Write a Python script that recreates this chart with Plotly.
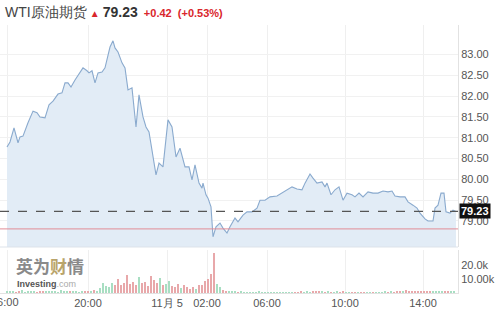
import plotly.graph_objects as go

# ---------------- data ----------------
# x positions are a time index (chart-scale units), prices read from the picture
price_x = [7, 10, 14, 18, 20, 23, 28, 33, 37, 40, 45, 49, 53, 58, 62, 65, 68, 71, 75, 78,
           83, 87, 89, 92, 95, 98, 102, 105, 110, 113, 115, 118, 122, 125, 128, 132, 136, 139,
           143, 146, 149, 156, 159, 163, 168, 172, 176, 180, 185, 189, 192, 195, 199, 202, 203,
           206, 208, 211, 213, 216, 220, 223, 227, 230, 235, 238, 243, 247, 252, 257, 260, 265,
           270, 277, 282, 287, 292, 297, 302, 305, 310, 313, 317, 322, 325, 327, 331, 335, 339,
           343, 347, 352, 355, 359, 363, 368, 373, 378, 383, 388, 392, 395, 400, 405, 408, 413,
           417, 420, 425, 428, 433, 435, 438, 441, 444, 446, 450, 453, 456]
price_y = [80.78, 80.90, 81.24, 80.88, 81.02, 81.04, 81.36, 81.64, 81.60, 81.50, 81.48, 81.79,
           81.88, 82.05, 82.08, 82.32, 82.32, 82.22, 82.39, 82.51, 82.68, 82.61, 82.56, 82.61,
           82.32, 82.56, 82.58, 82.68, 83.18, 83.33, 83.16, 83.06, 82.80, 82.68, 82.15, 82.20,
           81.26, 82.03, 81.50, 81.26, 81.14, 80.11, 80.39, 80.30, 81.43, 81.26, 80.54, 80.75,
           80.30, 80.30, 79.99, 80.35, 79.91, 79.79, 79.91, 79.63, 79.55, 79.34, 78.62, 78.86,
           78.95, 78.83, 78.71, 78.86, 79.07, 78.98, 79.14, 79.22, 79.22, 79.31, 79.50, 79.50,
           79.58, 79.60, 79.67, 79.75, 79.82, 79.77, 79.75, 79.91, 80.13, 80.03, 79.91, 79.94,
           79.82, 79.91, 79.63, 79.75, 79.82, 79.50, 79.67, 79.63, 79.58, 79.67, 79.58, 79.70,
           79.67, 79.67, 79.72, 79.70, 79.72, 79.60, 79.58, 79.58, 79.46, 79.38, 79.31, 79.19,
           79.05, 79.00, 79.00, 79.31, 79.38, 79.67, 79.67, 79.22, 79.19, 79.26, 79.23]

last_price = 79.23
prev_close = 78.81
change = "+0.42"
change_pct = "(+0.53%)"

# volume in thousands
volumes = [1.2, 0.8, 1.5, 0.6, 1.0, 1.8, 0.7, 1.1, 0.9, 1.4, 0.6, 1.3, 1.0, 0.8, 1.6, 0.9,
           1.2, 0.7, 1.9, 1.1, 0.8, 1.5, 1.0, 1.3, 0.7, 1.7, 1.2, 0.9, 1.4, 2.0, 1.6,
           3.5, 6.8, 5.2, 4.1, 7.5, 6.0, 9.8, 5.5, 7.2, 12.5, 6.5, 8.0, 5.8, 11.2, 6.9, 7.8,
           4.8, 12.0, 9.5, 7.0, 10.5, 5.6, 6.2, 8.8, 5.0, 4.2, 6.5, 3.8, 5.4, 4.0, 3.2, 4.6,
           3.0, 5.8,
           6.0, 8.5, 10.0, 13.5, 28.5, 6.5, 4.0, 2.2,
           1.5, 1.2, 0.8, 1.0, 0.6, 0.9, 0.5, 0.7, 0.4, 0.6, 0.5, 0.8, 0.3, 0.5, 0.4, 0.6,
           0.3, 0.5, 0.4, 0.3, 0.5, 0.6, 0.4, 0.7, 0.5, 0.8, 0.6, 1.0, 0.7, 1.2, 0.8, 1.5,
           0.9, 0.6, 1.1, 0.7, 0.5, 0.8, 0.6, 0.9, 0.4, 0.6, 0.5, 0.7, 0.4, 0.5, 0.6, 0.4,
           0.3, 0.5, 0.4, 0.6, 0.5, 0.8, 0.6, 1.0, 0.7, 1.4, 0.9, 1.2, 1.8, 1.0, 1.5, 0.8,
           1.3, 1.1, 0.9, 1.6, 1.0, 1.4, 0.8, 1.7, 1.2, 0.9, 1.5, 1.1, 0.8]
vol_x = [7 + 3 * i for i in range(len(volumes))]

tick_pos = [7, 88, 167, 207, 267, 345, 423]
tick_labels = ["16:00", "20:00", "11月 5", "02:00", "06:00", "10:00", "14:00"]
price_ticks = [79.0, 79.5, 80.0, 80.5, 81.0, 81.5, 82.0, 82.5, 83.0]
vol_ticks = [10000, 20000]
vol_tick_labels = ["10.00k", "20.0k"]


# ---------------- helpers ----------------
def interp(x):
    if x <= price_x[0]:
        return price_y[0]
    for i in range(1, len(price_x)):
        if x <= price_x[i]:
            x0, x1 = price_x[i - 1], price_x[i]
            y0, y1 = price_y[i - 1], price_y[i]
            return y0 + (y1 - y0) * (x - x0) / (x1 - x0)
    return price_y[-1]


vol_colors = []
for x in vol_x:
    up = interp(x) >= interp(x - 3)
    vol_colors.append("rgb(168,222,194)" if up else "rgb(232,168,170)")

FONT = "Arial, 'Liberation Sans', sans-serif"

fig = go.Figure()
fig.add_trace(go.Scatter(
    x=price_x, y=price_y, mode="lines", fill="tozeroy",
    line=dict(color="rgb(138,170,206)", width=1.1),
    fillcolor="rgb(226,236,246)", xaxis="x", yaxis="y", hoverinfo="skip"))
fig.add_trace(go.Bar(
    x=vol_x, y=[v * 1000 for v in volumes], marker=dict(color=vol_colors, line=dict(width=0)),
    width=1.2, xaxis="x", yaxis="y2", hoverinfo="skip"))

top_px, bot_px = 25, 293
H = 317 - top_px - (317 - bot_px)
price_bottom_px = 247
vol_top_px = 250
shown_text = [("" if i == 0 else t) for i, t in enumerate(tick_labels)]
fig.update_layout(
    width=500, height=317, margin=dict(l=0, r=42, t=top_px, b=317 - bot_px),
    paper_bgcolor="white", plot_bgcolor="white", showlegend=False, bargap=0,
    font=dict(family=FONT, size=11, color="#555"),
    xaxis=dict(range=[0, 458], domain=[0, 1], anchor="y2", tickvals=tick_pos, ticktext=shown_text,
               showgrid=True, gridcolor="#efefef", gridwidth=1, showline=True, linecolor="#e2e2e2",
               ticks="", zeroline=False, ticklabeloverflow="allow", tickfont=dict(size=11, color="#555")),
    yaxis=dict(domain=[(bot_px - price_bottom_px) / H, 1], range=[78.375, 83.71], side="right",
               anchor="x", tickvals=price_ticks, ticktext=["%.2f" % v for v in price_ticks],
               showgrid=True, gridcolor="#f1f1f1", showline=True, linecolor="#e2e2e2",
               zeroline=False, ticks="", tickfont=dict(size=11, color="#555")),
    yaxis2=dict(domain=[0, (bot_px - vol_top_px) / H], range=[0, 30700], side="right",
                anchor="x", tickvals=vol_ticks, ticktext=vol_tick_labels, showgrid=False,
                showline=True, linecolor="#e2e2e2", zeroline=False, ticks="",
                tickfont=dict(size=11, color="#555")),
)

# first time label, partly cut by the left edge as in the original
fig.add_annotation(xref="x", yref="paper", x=tick_pos[0] - 2, y=0, xanchor="center", yanchor="top",
                   yshift=-1, text=tick_labels[0], showarrow=False,
                   font=dict(size=11, color="#555", family=FONT))

# dashed last-price line and red previous close line
fig.add_shape(type="line", xref="x domain", yref="y", x0=0, x1=1, y0=last_price, y1=last_price,
              line=dict(color="#555", width=1.2, dash="dash"))
fig.add_shape(type="line", xref="x domain", yref="y", x0=0, x1=1, y0=prev_close, y1=prev_close,
              line=dict(color="rgb(225,140,150)", width=1))
fig.add_shape(type="line", xref="x domain", yref="y domain", x0=0, x1=1, y0=0, y1=0,
              line=dict(color="#dde3ea", width=1))

# price tag
fig.add_annotation(xref="paper", yref="y", x=1.0, y=last_price, xanchor="left", yanchor="middle",
                   text="<b>%.2f</b>" % last_price, showarrow=False, bgcolor="#111",
                   font=dict(color="white", size=11, family=FONT), borderpad=1, xshift=1)

# header
fig.add_annotation(xref="paper", yref="paper", x=0, y=1, xanchor="left", yanchor="middle",
                   xshift=3, yshift=top_px - 12, showarrow=False,
                   text=("<span style='color:#444;font-size:14px'>WTI原油期货</span>"
                         " <span style='color:#d9262c;font-size:10px'>▲</span>"
                         " <b><span style='color:#333;font-size:14px'>%.2f</span></b>"
                         "  <b><span style='color:#d9262c;font-size:11px'>%s</span></b>"
                         "  <b><span style='color:#d9262c;font-size:11px'>%s</span></b>")
                   % (last_price, change, change_pct),
                   font=dict(family=FONT))

# watermark
fig.add_annotation(xref="paper", yref="paper", x=0, y=0, xanchor="left", yanchor="bottom",
                   xshift=14, yshift=13, showarrow=False,
                   text="<b>英为<span style='color:#b9a46a'>财</span>情</b>",
                   font=dict(size=17, color="#8a8a8a", family="Noto Sans CJK SC"))
fig.add_annotation(xref="paper", yref="paper", x=0, y=0, xanchor="left", yanchor="bottom",
                   xshift=15, yshift=2, showarrow=False,
                   text="<b><span style='color:#555'>Investing</span></b><span style='color:#aaa'>.com</span>",
                   font=dict(size=9, family=FONT))

fig.write_html("out.html")
